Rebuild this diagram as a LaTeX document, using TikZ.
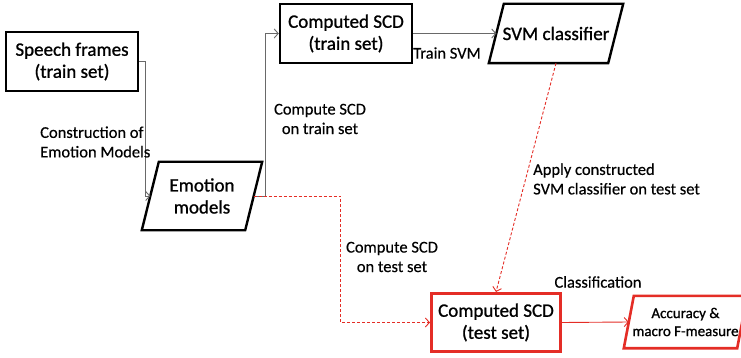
\documentclass[tikz,border=0pt]{standalone}
\usepackage{fontspec}
\setmainfont{Carlito}
\newfontfamily\boxfont{Carlito}[FakeBold=1.0]
\newfontfamily\lblfont{Carlito}[FakeBold=0.4]
\usetikzlibrary{arrows.meta}
\definecolor{flowred}{RGB}{228,45,38}
\definecolor{linkgray}{RGB}{105,105,105}

% outline of a slanted (parallelogram) box around a named node
\newcommand\slantbox[3]{%
  \draw[#3] ([xshift=#2]#1.north west) -- ([xshift=#2]#1.north east)
    -- ([xshift=-#2]#1.south east) -- ([xshift=-#2]#1.south west) -- cycle;}

\begin{document}
\begin{tikzpicture}[x=1pt,y=-1pt,
  boxtext/.style={font=\boxfont\fontsize{19}{22}\selectfont, align=center, inner sep=0pt},
  stepbox/.style={boxtext, draw, line width=2.4pt, minimum width=132pt, minimum height=59pt},
  redbox/.style={boxtext, draw=flowred, line width=3pt, minimum width=129pt, minimum height=58pt},
  slanted/.style={boxtext, minimum width=#1},
  lbl/.style={font=\lblfont\fontsize{16.5}{19.5}\selectfont, inner sep=0pt},
  graylink/.style={draw=linkgray, line width=0.9pt, -{Straight Barb[length=4pt,width=9pt]}},
  redlink/.style={draw=flowred, line width=0.9pt, -{Straight Barb[length=4pt,width=9pt]}},
  reddash/.style={redlink, dash pattern=on 3pt off 2pt}
]
\useasboundingbox (0,0) rectangle (741,358);

% boxes
\node[stepbox] (speech) at (72,61.5) {Speech frames\\(train set)};
\node[stepbox] (trainscd) at (346,33.5) {Computed SCD\\(train set)};
\node[redbox] (testscd) at (496,322.5) {Computed SCD\\(test set)};

% slanted boxes
\node[slanted=103pt, minimum height=68pt] (emo) at (202,196) {Emotion\\models};
\slantbox{emo}{8.5pt}{line width=2.4pt}
\node[slanted=119pt, minimum height=59pt] (svm) at (556,33.5) {SVM classifier};
\slantbox{svm}{7.5pt}{line width=2.4pt}
\node[slanted=113pt, minimum height=52pt, font=\boxfont\fontsize{15}{18}\selectfont] (acc) at (685.5,322) {Accuracy \&\\macro F-measure};
\slantbox{acc}{5pt}{line width=2.6pt, draw=flowred}

% connectors
\draw[graylink] (speech.east) -- ++(6,0) |- (emo.west);
\draw[graylink] (emo.east) -- ++(11.5,0) |- (trainscd.west);
\draw[graylink] (trainscd.east) -- (svm.west);
\draw[reddash] (emo.east) -- ++(87,0) |- (testscd.west);
\draw[reddash] (svm.south) -- (testscd.north);
\draw[redlink] (testscd.east) -- (acc.west);

% labels
\node[lbl, anchor=west, align=left] (lconstr) at (40,142) {Construction of\\Emotion Models};
\node[lbl, align=center] (ltrain) at (320,119) {Compute SCD\\on train set};
\node[lbl] (lsvm) at (447,53) {Train SVM};
\node[lbl, anchor=west, align=left] (lapply) at (533,179) {Apply constructed\\SVM classifier on test set};
\node[lbl, align=center] (ltest) at (392,257) {Compute SCD\\on test set};
\node[lbl] (lclass) at (598,282) {Classification};
\end{tikzpicture}
\end{document}
